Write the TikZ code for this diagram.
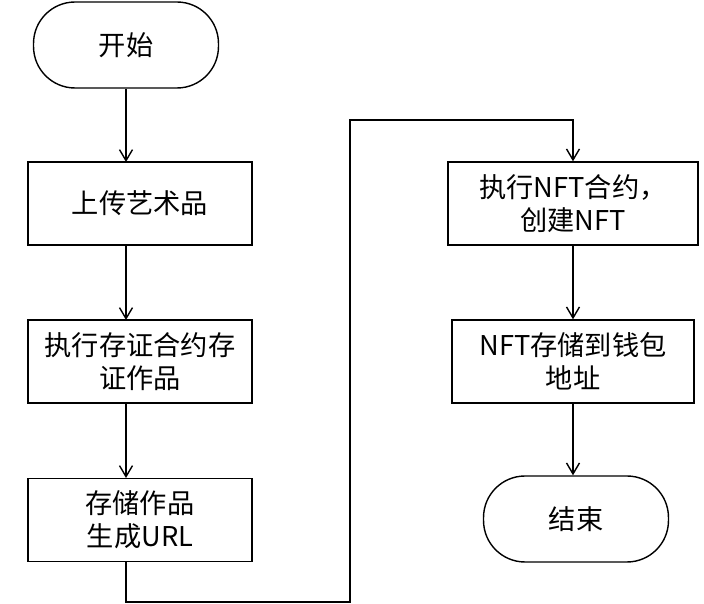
\documentclass[tikz,border=0pt]{standalone}
\usepackage{fontspec}
\setmainfont{Noto Sans CJK SC}
\usetikzlibrary{arrows.meta,positioning,calc}
\begin{document}
\begin{tikzpicture}[x=0.02cm,y=-0.02cm,
    box/.style={draw, thick, minimum width=4.48cm, minimum height=1.66cm, align=center, font=\fontsize{15.5}{19}\selectfont},
    term/.style={draw, thick, rounded corners=0.83cm, minimum width=3.7cm, minimum height=1.72cm, font=\fontsize{15.5}{19}\selectfont},
    link/.style={thick, -{Straight Barb[length=2.2mm,width=2.6mm]}}]
    \useasboundingbox (0,0) rectangle (704,604);
    % left column
    \node[term] (start) at (126,45) {开始};
    \node[box] (upload) at (140,203.5) {上传艺术品};
    \node[box] (proof) at (140,361.5) {执行存证合约存\\证作品};
    \node[box] (store) at (140,520) {存储作品\\生成URL};
    % right column
    \node[box, minimum width=5cm] (mint) at (573,203.5) {执行NFT合约，\\创建NFT};
    \node[box, minimum width=4.84cm] (wallet) at (573,361.5) {NFT存储到钱包\\地址};
    \node[term] (finish) at (576,519) {结束};
    % connectors
    \draw[link] (start.south -| 126,0) -- (126,162);
    \draw[link] (126,245) -- (126,320);
    \draw[link] (126,403) -- (126,478);
    \draw[link] (126,562) -- (126,602) -- (350,602) -- (350,120) -- (573,120) -- (mint.north);
    \draw[link] (mint.south) -- (wallet.north);
    \draw[link] (wallet.south) -- (finish.north -| wallet.south);
\end{tikzpicture}
\end{document}
